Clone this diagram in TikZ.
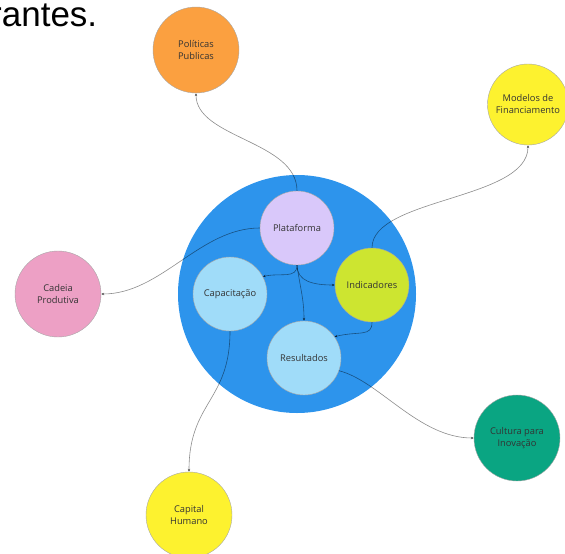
\documentclass[tikz,border=0pt]{standalone}
\usepackage{fontspec}
\setmainfont{Open Sans}
\newfontfamily\headfont{Liberation Sans}
\usetikzlibrary{arrows.meta}
\definecolor{hubblue}{HTML}{2D94EC}
\definecolor{lilac}{HTML}{D9C8FA}
\definecolor{skyblue}{HTML}{A0DCF9}
\definecolor{limey}{HTML}{CDE530}
\definecolor{orangey}{HTML}{FBA040}
\definecolor{yellowy}{HTML}{FDF22F}
\definecolor{pinky}{HTML}{EDA0C5}
\definecolor{greeny}{HTML}{0AA582}
\def\lnk{\draw[link]}

\begin{document}
\begin{tikzpicture}[x=1pt,y=-1pt,
    bub/.style={circle,draw=black!35,line width=0.4pt,minimum size=74pt,inner sep=0pt,
                align=center,font=\fontsize{9.3}{12}\selectfont,text=black!80},
    big/.style={bub,minimum size=86pt},
    link/.style={draw=black,draw opacity=0.45,line width=0.6pt,-{Stealth[length=3pt,width=2.6pt]}}]
    \useasboundingbox (0,0) rectangle (565,554);
    \node[anchor=base west,inner sep=0pt,font=\headfont\fontsize{35}{40}\selectfont] (title) at (-10,27) {rantes.};
    \node[circle,fill=hubblue,minimum size=238pt] (hub) at (297,294) {};
    \node[bub,fill=lilac]   (plat) at (297,228) {Plataforma};
    \node[bub,fill=skyblue] (capa) at (230,294) {Capacitação};
    \node[bub,fill=limey]   (indi) at (372,285) {Indicadores};
    \node[bub,fill=skyblue] (resu) at (304,358) {Resultados};
    \node[big,fill=orangey] (poli) at (196,50)  {Políticas\\Publicas};
    \node[big,fill=yellowy,minimum size=81pt] (mode) at (528,104.5) {Modelos de\\Financiamento};
    \node[big,fill=pinky]   (cade) at (58,294)  {Cadeia\\Produtiva};
    \node[big,fill=greeny]  (cult) at (517,438) {Cultura para\\Inovação};
    \node[big,fill=yellowy] (capi) at (189,515) {Capital\\Humano};
    \lnk (plat.north) .. controls +(0,-50) and +(0,45) .. (poli.south);
    \lnk (plat.west) .. controls +(-60,0) and +(60,0) .. (cade.east);
    \lnk (plat.south) .. controls +(0,14) and +(18,-4) .. (capa.28);
    \lnk (plat.south) .. controls +(0,16) and +(-22,0) .. (indi.west);
    \lnk (plat.south) .. controls +(3,22) and +(0,-22) .. (resu.north);
    \lnk (indi.south) .. controls +(0,15) and +(25,-6) .. (resu.35);
    \lnk (indi.north) .. controls +(0,-50) and +(0,55) .. (mode.south);
    \lnk (capa.south) .. controls +(0,70) and +(0,-70) .. (capi.north);
    \lnk (resu.-20) .. controls +(40,10) and +(-55,0) .. (cult.west);
\end{tikzpicture}
\end{document}
